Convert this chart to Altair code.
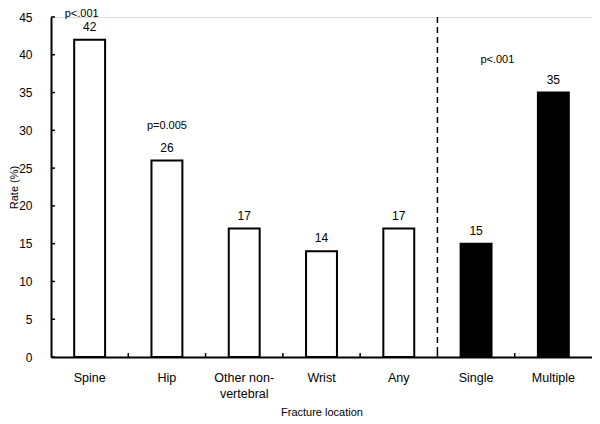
import altair as alt
import pandas as pd

categories = ["Spine", "Hip", "Other non-vertebral", "Wrist", "Any", "Single", "Multiple"]
rates = [42, 26, 17, 14, 17, 15, 35]
groups = ["location", "location", "location", "location", "location", "number", "number"]

p_top_cats = ["Spine"]
p_top_texts = ["p<.001"]

p_cats = ["Hip"]
p_vals = [26]
p_texts = ["p=0.005"]

p2_cats = ["Multiple"]
p2_vals = [35]
p2_texts = ["p<.001"]

y_ticks = [0, 5, 10, 15, 20, 25, 30, 35, 40, 45]

df = pd.DataFrame({"cat": categories, "rate": rates, "group": groups})
dfp0 = pd.DataFrame({"cat": p_top_cats, "txt": p_top_texts})
dfp = pd.DataFrame({"cat": p_cats, "rate": p_vals, "txt": p_texts})
dfp2 = pd.DataFrame({"cat": p2_cats, "rate": p2_vals, "txt": p2_texts})
dft = pd.DataFrame({"rate": y_ticks})
dfb = pd.DataFrame({"cat": categories[:-1]})

FONT = "Liberation Sans"
W, H = 541, 340

xscale = alt.Scale(domain=categories, paddingInner=0, paddingOuter=0)
yscale = alt.Scale(domain=[0, 45], nice=False)

x_axis = alt.Axis(
    title="Fracture location", labelAngle=0, tickSize=0, labelPadding=14,
    labelFontSize=12.5, labelFont=FONT, labelColor="black",
    titleFontSize=11, titleFont=FONT, titleFontWeight="normal", titleColor="black",
    titlePadding=7, domainColor="black", domainWidth=2,
    labelExpr="datum.label == 'Other non-vertebral' ? ['Other non-', 'vertebral'] : datum.label",
    labelLineHeight=16,
)
y_axis = alt.Axis(
    title="Rate (%)", values=y_ticks, tickSize=0, labelPadding=19, grid=False,
    labelOverlap=False,
    labelFontSize=12, labelFont=FONT, labelColor="black",
    titleFontSize=11, titleFont=FONT, titleFontWeight="normal", titleColor="black",
    titleX=-43, titleY=H / 2, titleBaseline="top", titleAngle=270,
    domainColor="black", domainWidth=2,
)


def X(**kw):
    return alt.X("cat:N", scale=xscale, axis=x_axis, sort=categories, title="Fracture location", **kw)


def Y():
    return alt.Y("rate:Q", scale=yscale, axis=y_axis, title="Rate (%)")


bars = alt.Chart(df).mark_bar(
    width=alt.RelativeBandSize(0.4), stroke="black", strokeWidth=2
).encode(
    x=X(),
    y=Y(),
    fill=alt.Fill("group:N", scale=alt.Scale(domain=["location", "number"], range=["white", "black"]), legend=None),
)

vals = alt.Chart(df).mark_text(
    baseline="bottom", dy=-6, fontSize=12, font=FONT, color="black"
).encode(x=X(), y=Y(), text="rate:Q")

ptop = alt.Chart(dfp0).mark_text(
    baseline="top", dx=-8, dy=-9, fontSize=11, font=FONT, color="black"
).encode(x=X(), y=alt.value(0), text="txt:N")

ptext = alt.Chart(dfp).mark_text(
    baseline="middle", dy=-35, fontSize=11, font=FONT, color="black"
).encode(x=X(), y=Y(), text="txt:N")

ptext2 = alt.Chart(dfp2).mark_text(
    baseline="middle", dx=-56, dy=-33, fontSize=11, font=FONT, color="black"
).encode(x=X(), y=Y(), text="txt:N")

dashed = alt.Chart(pd.DataFrame({"cat": ["Single"]})).mark_rule(
    color="black", strokeWidth=1.5, strokeDash=[6, 4]
).encode(x=X(bandPosition=0), y=alt.value(0), y2=alt.value(H))

yticks = alt.Chart(dft).mark_rule(color="black", strokeWidth=1.5).encode(
    y=Y(), x=alt.value(0), x2=alt.value(4),
)

xticks = alt.Chart(dfb).mark_rule(color="black", strokeWidth=1.5).encode(
    x=X(bandPosition=1), y=alt.value(H - 4), y2=alt.value(H),
)

chart = alt.layer(bars, vals, ptop, ptext, ptext2, dashed, yticks, xticks).properties(
    width=W, height=H,
    autosize=alt.AutoSizeParams(type="none"),
    padding={"left": 43, "top": 9, "right": 0, "bottom": 66},
).configure_view(stroke=None).configure(background="white")

chart.save("out.html", embed_options={"renderer": "svg", "actions": False})
